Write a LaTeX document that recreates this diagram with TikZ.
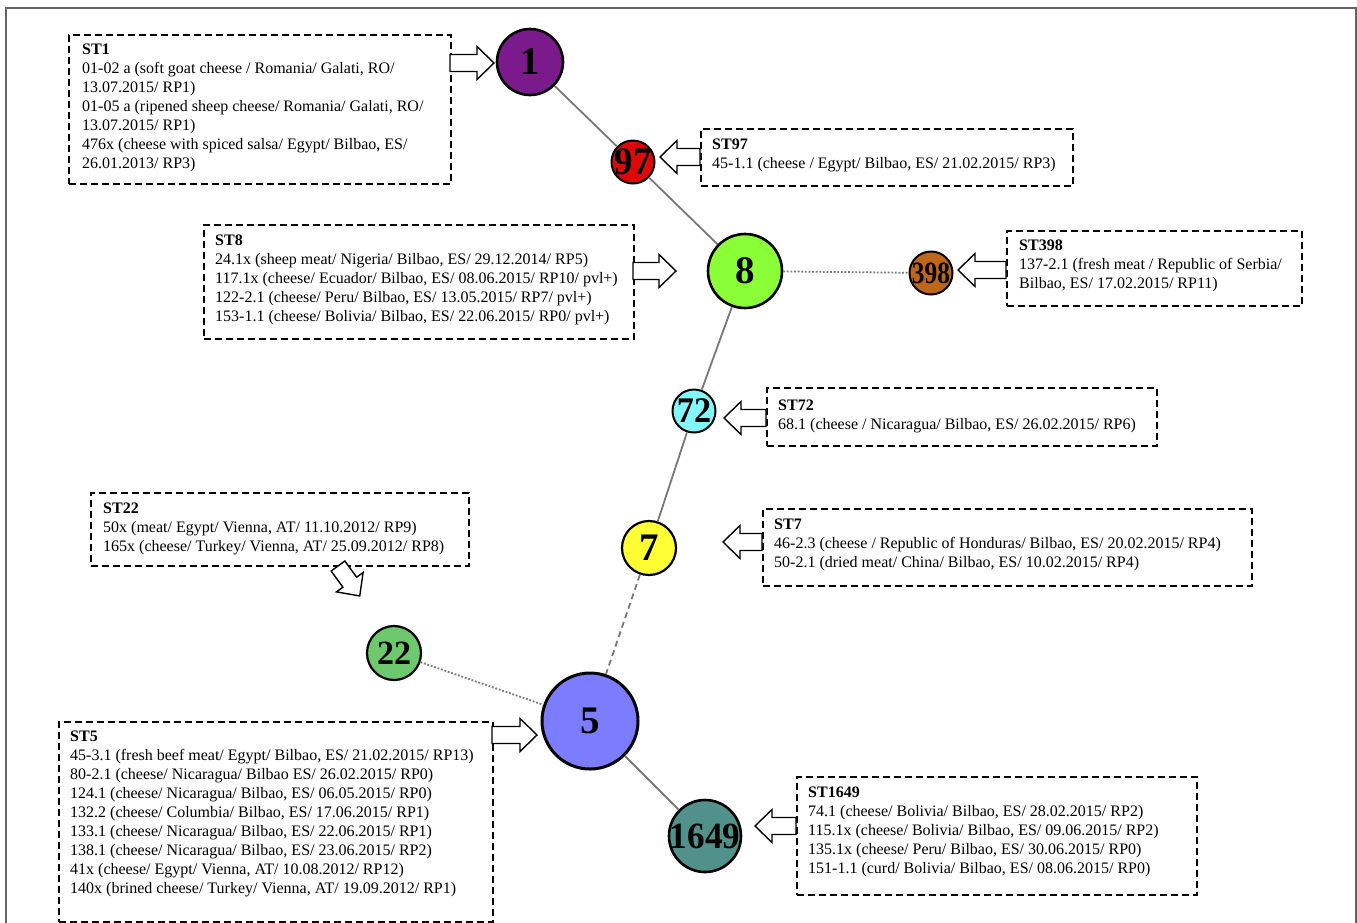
\documentclass[tikz,border=0pt]{standalone}
\usepackage{fontspec}
\setmainfont{Liberation Serif}
\definecolor{cOne}{RGB}{122,26,140}
\definecolor{cNinetySeven}{RGB}{222,8,8}
\definecolor{cEight}{RGB}{138,255,56}
\definecolor{cThreeNineEight}{RGB}{190,102,26}
\definecolor{cSeventyTwo}{RGB}{130,246,248}
\definecolor{cSeven}{RGB}{255,255,51}
\definecolor{cTwentyTwo}{RGB}{110,200,110}
\definecolor{cFive}{RGB}{124,124,255}
\definecolor{cSixteen}{RGB}{80,145,140}
\definecolor{frameGray}{RGB}{100,100,100}
\definecolor{linkGray}{RGB}{120,120,120}
\newcommand\blockarr[4]{%
  \draw[blk, shift={(#1,#2)}, rotate=#3] (0,-8.5) -- ({#4-17},-8.5) -- ({#4-17},-16.5) -- (#4,0) -- ({#4-17},16.5) -- ({#4-17},8.5) -- (0,8.5) -- cycle;}
\begin{document}
\begin{tikzpicture}[x=1pt,y=-1pt,
  stnode/.style={circle, draw=black, line width=2.6pt, inner sep=0pt},
  num/.style={inner sep=0pt, font=\bfseries\fontsize{39}{39}\selectfont},
  infobox/.style={rectangle, draw=black, dash pattern=on 7pt off 4pt, line width=1.7pt, anchor=north west, inner sep=0pt},
  boxtext/.style={anchor=north west, inner sep=0pt, align=left, font=\fontsize{16}{19}\selectfont},
  link/.style={draw=linkGray, line width=1.8pt},
  dotlink/.style={link, dash pattern=on 1.8pt off 1.8pt},
  dashlink/.style={link, dash pattern=on 6pt off 4pt},
  blk/.style={draw=black, fill=white, line width=1.4pt, line join=miter},
]
\useasboundingbox (0,0) rectangle (1357,922);
% frame
\draw[frameGray, line width=2pt] (6,930) -- (6,8) -- (1356,8) -- (1356,930);

% ST nodes
\node[stnode, fill=cOne, minimum size=66] (n1) at (530,62) {};
\node[stnode, fill=cNinetySeven, minimum size=43, line width=2pt] (n97) at (633,162) {};
\node[stnode, fill=cEight, minimum size=74] (n8) at (745,271) {};
\node[stnode, fill=cThreeNineEight, minimum size=43, line width=2pt] (n398) at (931,273) {};
\node[stnode, fill=cSeventyTwo, minimum size=43, line width=2pt] (n72) at (694,411) {};
\node[stnode, fill=cSeven, minimum size=54, line width=2.2pt] (n7) at (649,548) {};
\node[stnode, fill=cTwentyTwo, minimum size=54, line width=2.2pt] (n22) at (394,653) {};
\node[stnode, fill=cFive, minimum size=96, line width=3pt] (n5) at (590,721) {};
\node[stnode, fill=cSixteen, minimum size=72] (n1649) at (705,836) {};

% links
\draw[link] (n1) -- (n97);
\draw[link] (n97) -- (n8);
\draw[dotlink] (n8) -- (n398);
\draw[link] (n8) -- (n72);
\draw[link] (n72) -- (n7);
\draw[dashlink] (n7) -- (n5);
\draw[dotlink] (n22) -- (n5);
\draw[link] (n5) -- (n1649);

% numbers
\node[num] (t1) at (n1) {1};
\node[num] (t97) at (n97) {\scalebox{0.95}[1]{97}};
\node[num] (t8) at (n8) {8};
\node[num, font=\bfseries\fontsize{31}{31}\selectfont] (t398) at (n398) {\scalebox{0.82}[1]{398}};
\node[num, font=\bfseries\fontsize{36}{36}\selectfont] (t72) at (n72) {\scalebox{0.95}[1]{72}};
\node[num] (t7) at (n7) {7};
\node[num, font=\bfseries\fontsize{34}{34}\selectfont] (t22) at (n22) {22};
\node[num] (t5) at (n5) {5};
\node[num, font=\bfseries\fontsize{37}{37}\selectfont] (t1649) at (n1649) {\scalebox{0.95}[1]{1649}};

% boxes
\node[infobox, minimum width=382, minimum height=149] (b1) at (68,34) {};
\node[boxtext] (x1) at (82,44) {\textbf{ST1}\\
01-02 a (soft goat cheese / Romania/ Galati, RO/\\
13.07.2015/ RP1)\\
01-05 a (ripened sheep cheese/ Romania/ Galati, RO/\\
13.07.2015/ RP1)\\
476x (cheese with spiced salsa/ Egypt/ Bilbao, ES/\\
26.01.2013/ RP3)};

\node[infobox, minimum width=372, minimum height=57] (b97) at (700,128) {};
\node[boxtext] (x97) at (712,139) {\textbf{ST97}\\
45-1.1 (cheese / Egypt/ Bilbao, ES/ 21.02.2015/ RP3)};

\node[infobox, minimum width=430, minimum height=114] (b8) at (203,224) {};
\node[boxtext] (x8) at (215,235) {\textbf{ST8}\\
24.1x (sheep meat/ Nigeria/ Bilbao, ES/ 29.12.2014/ RP5)\\
117.1x (cheese/ Ecuador/ Bilbao, ES/ 08.06.2015/ RP10/ pvl+)\\
122-2.1 (cheese/ Peru/ Bilbao, ES/ 13.05.2015/ RP7/ pvl+)\\
153-1.1 (cheese/ Bolivia/ Bilbao, ES/ 22.06.2015/ RP0/ pvl+)};

\node[infobox, minimum width=295, minimum height=75] (b398) at (1006,230) {};
\node[boxtext] (x398) at (1019,240) {\textbf{ST398}\\
137-2.1 (fresh meat / Republic of Serbia/\\
Bilbao, ES/ 17.02.2015/ RP11)};

\node[infobox, minimum width=390, minimum height=58] (b72) at (766,387) {};
\node[boxtext] (x72) at (778,400) {\textbf{ST72}\\
68.1 (cheese / Nicaragua/ Bilbao, ES/ 26.02.2015/ RP6)};

\node[infobox, minimum width=378, minimum height=73] (b22) at (90,492) {};
\node[boxtext] (x22) at (103,503) {\textbf{ST22}\\
50x (meat/ Egypt/ Vienna, AT/ 11.10.2012/ RP9)\\
165x (cheese/ Turkey/ Vienna, AT/ 25.09.2012/ RP8)};

\node[infobox, minimum width=489, minimum height=77] (b7) at (762,508) {};
\node[boxtext] (x7) at (774,519) {\textbf{ST7}\\
46-2.3 (cheese / Republic of Honduras/ Bilbao, ES/ 20.02.2015/ RP4)\\
50-2.1 (dried meat/ China/ Bilbao, ES/ 10.02.2015/ RP4)};

\node[infobox, minimum width=434, minimum height=200] (b5) at (58,721) {};
\node[boxtext] (x5) at (70,731) {\textbf{ST5}\\
45-3.1 (fresh beef meat/ Egypt/ Bilbao, ES/ 21.02.2015/ RP13)\\
80-2.1 (cheese/ Nicaragua/ Bilbao ES/ 26.02.2015/ RP0)\\
124.1 (cheese/ Nicaragua/ Bilbao, ES/ 06.05.2015/ RP0)\\
132.2 (cheese/ Columbia/ Bilbao, ES/ 17.06.2015/ RP1)\\
133.1 (cheese/ Nicaragua/ Bilbao, ES/ 22.06.2015/ RP1)\\
138.1 (cheese/ Nicaragua/ Bilbao, ES/ 23.06.2015/ RP2)\\
41x (cheese/ Egypt/ Vienna, AT/ 10.08.2012/ RP12)\\
140x (brined cheese/ Turkey/ Vienna, AT/ 19.09.2012/ RP1)};

\node[infobox, minimum width=400, minimum height=118] (b1649) at (796,776) {};
\node[boxtext] (x1649) at (808,787) {\textbf{ST1649}\\
74.1 (cheese/ Bolivia/ Bilbao, ES/ 28.02.2015/ RP2)\\
115.1x (cheese/ Bolivia/ Bilbao, ES/ 09.06.2015/ RP2)\\
135.1x (cheese/ Peru/ Bilbao, ES/ 30.06.2015/ RP0)\\
151-1.1 (curd/ Bolivia/ Bilbao, ES/ 08.06.2015/ RP0)};

% block arrows
\blockarr{450}{63}{0}{44}
\blockarr{700}{157}{180}{40}
\blockarr{633}{271}{0}{43}
\blockarr{1006}{270}{180}{48}
\blockarr{766}{418}{180}{42}
\blockarr{762}{542}{180}{39}
\blockarr{338}{566}{-54}{37}
\blockarr{492}{735}{0}{45}
\blockarr{796}{826}{180}{41}
\end{tikzpicture}
\end{document}
